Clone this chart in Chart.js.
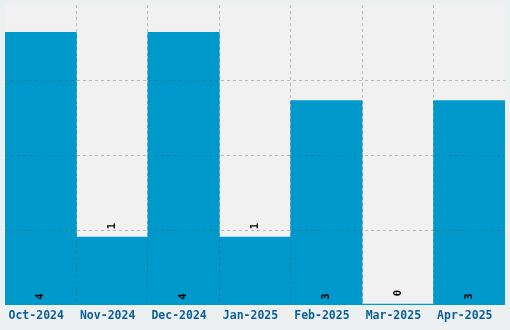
<!DOCTYPE html>
<html>
<head>
<meta charset="utf-8">
<script src="https://cdn.jsdelivr.net/npm/chart.js@4/dist/chart.umd.min.js"></script>
<style>
  html, body { margin: 0; padding: 0; background: #ecf0f1; }
  #wrap { width: 510px; height: 330px; position: relative; }
</style>
</head>
<body>
<div id="wrap"><canvas id="c" width="510" height="330"></canvas></div>
<script>
const categories = ["Oct-2024", "Nov-2024", "Dec-2024", "Jan-2025", "Feb-2025", "Mar-2025", "Apr-2025"];
const values = [4, 1, 4, 1, 3, 0, 3];
const yMax = 4.4;
const yStep = 1.1;

const gridColor = 'rgba(80,80,80,0.35)';
const none = 'rgba(0,0,0,0)';

const bgPlugin = {
  id: 'bg',
  beforeDraw(chart) {
    const ctx = chart.ctx, a = chart.chartArea;
    ctx.save();
    ctx.fillStyle = '#ecf0f1';
    ctx.fillRect(0, 0, chart.width, chart.height);
    ctx.fillStyle = '#f1f1f1';
    ctx.fillRect(a.left, a.top, a.right - a.left, a.bottom - a.top);
    ctx.restore();
  }
};

const labelPlugin = {
  id: 'vlabels',
  afterDraw(chart) {
    const ctx = chart.ctx;
    const meta = chart.getDatasetMeta(0);
    ctx.save();
    ctx.font = 'bold 10.5px "DejaVu Sans Mono", monospace';
    ctx.fillStyle = '#000';
    ctx.textAlign = 'center';
    ctx.textBaseline = 'middle';
    meta.data.forEach((el, i) => {
      const p = el.getProps(['x', 'y', 'base'], true);
      const h = p.base - p.y;
      const cy = h > 100 ? p.base - 8 : p.y - 11;
      ctx.save();
      ctx.translate(p.x, cy);
      ctx.rotate(-Math.PI / 2);
      ctx.fillText(String(values[i]), 0, 0);
      ctx.restore();
    });
    ctx.restore();
  }
};

new Chart(document.getElementById('c'), {
  type: 'bar',
  data: {
    labels: categories,
    datasets: [{
      data: values,
      backgroundColor: '#0099cc',
      borderWidth: 0,
      barPercentage: 1,
      categoryPercentage: 1,
      minBarLength: 1
    }]
  },
  plugins: [bgPlugin, labelPlugin],
  options: {
    responsive: false,
    animation: false,
    devicePixelRatio: 1,
    layout: { padding: { left: 5, right: 5, top: 5, bottom: 3 } },
    plugins: { legend: { display: false }, tooltip: { enabled: false } },
    scales: {
      x: {
        grid: {
          z: 1,
          offset: true,
          drawTicks: false,
          color: (c) => (c.type !== 'tick' || c.index === 0 ? none : gridColor),
          lineWidth: 1
        },
        border: { display: false, dash: [3, 3] },
        ticks: {
          color: '#0b5f99',
          font: { family: '"DejaVu Sans Mono", monospace', weight: 'bold', size: 11.5 },
          padding: 4,
          labelOffset: -4.5,
          maxRotation: 0
        }
      },
      y: {
        min: 0,
        max: yMax,
        grid: {
          z: 1,
          drawTicks: false,
          color: (c) => (c.type !== 'tick' || c.index === 0 || c.tick.value >= yMax - 0.01 ? none : gridColor),
          lineWidth: 1
        },
        border: { display: false, dash: [3, 3] },
        ticks: { display: false, stepSize: yStep, padding: 0 }
      }
    }
  }
});
</script>
</body>
</html>
